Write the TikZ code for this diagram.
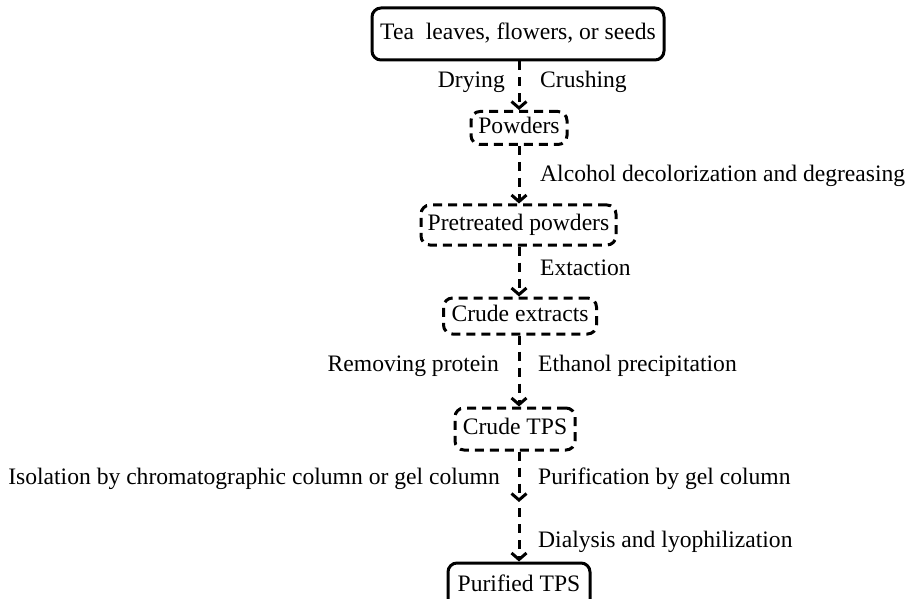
\documentclass[tikz,border=0pt]{standalone}
\usepackage{fontspec}
\setmainfont{Liberation Serif}
\usetikzlibrary{arrows.meta}
\begin{document}
\begin{tikzpicture}[x=1pt,y=-1pt,
  font=\fontsize{23.6}{26}\selectfont,
  every node/.style={text height=16pt,text depth=5pt},
  solidbox/.style={draw,line width=3pt,rounded corners=9pt,inner sep=0pt},
  dashbox/.style={draw,line width=3pt,rounded corners=9pt,inner sep=0pt,
    dash pattern=on 9pt off 6pt},
  flow/.style={line width=3pt,dash pattern=on 9pt off 7pt,
    -{Straight Barb[length=6.5pt,width=15pt,line width=3pt]}},
  lbl/.style={inner sep=0pt}]
\useasboundingbox (0,0) rectangle (911,599);
\clip (0,0) rectangle (911,599);

% process stages
\node[solidbox,minimum width=292pt,minimum height=52pt] (tea) at (518,34) {Tea\ \ leaves, flowers, or seeds};
\node[dashbox,minimum width=96pt,minimum height=33pt] (pow) at (519,128) {Powders};
\node[dashbox,minimum width=195pt,minimum height=40pt] (pre) at (518.5,225) {Pretreated powders};
\node[dashbox,minimum width=153pt,minimum height=36pt] (ext) at (520,316) {Crude extracts};
\node[dashbox,minimum width=120pt,minimum height=42pt] (ctps) at (515,429) {Crude TPS};
\node[solidbox,minimum width=142pt,minimum height=46pt] (ptps) at (519,586) {Purified TPS};

% intermediate point between the two purification steps
\coordinate (mid) at (519,502);

% connectors
\draw[flow] (tea.south -| 519,0) -- (pow.north -| 519,0);
\draw[flow] (pow.south -| 519,0) -- (pre.north -| 519,0);
\draw[flow] (pre.south -| 519,0) -- (ext.north -| 519,0);
\draw[flow] (ext.south -| 519,0) -- (ctps.north -| 519,0);
\draw[flow] (ctps.south -| 519,0) -- (mid);
\draw[flow] (mid) ++(0,6) -- (ptps.north -| 519,0);

% step labels
\node[lbl,anchor=east] (l1a) at (505,82) {Drying};
\node[lbl,anchor=west] (l1b) at (540,82) {Crushing};
\node[lbl,anchor=west] (l2) at (540,176) {Alcohol decolorization and degreasing};
\node[lbl,anchor=west] (l3) at (540,270) {Extaction};
\node[lbl,anchor=east] (l4a) at (499,366) {Removing protein};
\node[lbl,anchor=west] (l4b) at (538,366) {Ethanol precipitation};
\node[lbl,anchor=east] (l5a) at (500,479) {Isolation by chromatographic column or gel column};
\node[lbl,anchor=west] (l5b) at (538,479) {Purification by gel column};
\node[lbl,anchor=west] (l6) at (538,542) {Dialysis and lyophilization};
\end{tikzpicture}
\end{document}
